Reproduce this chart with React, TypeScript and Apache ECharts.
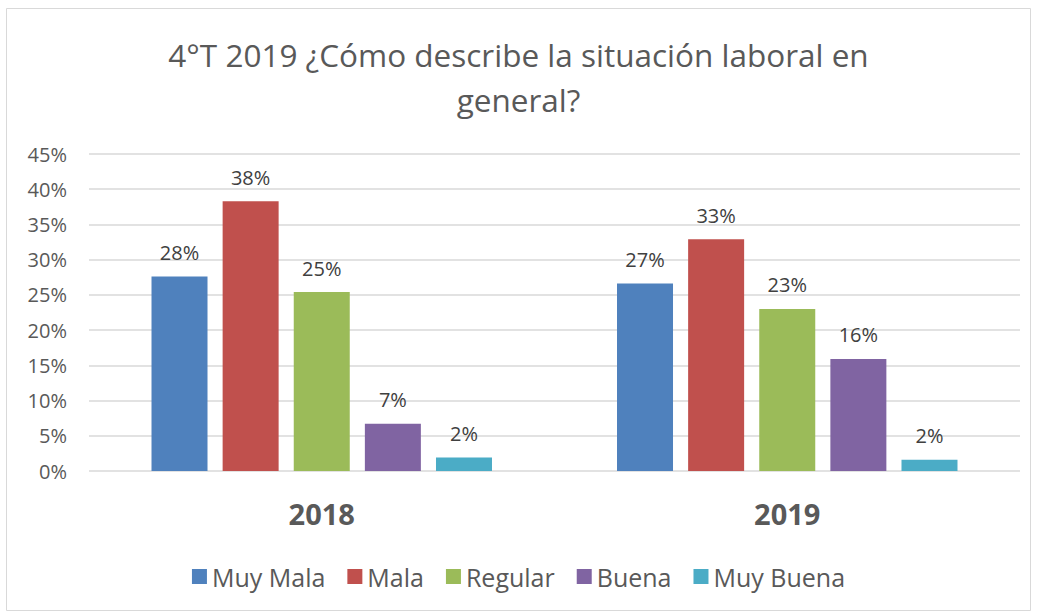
import React, { useEffect, useRef } from "react";
import * as echarts from "echarts";

const categories = ["2018", "2019"];
const seriesNames = ["Muy Mala", "Mala", "Regular", "Buena", "Muy Buena"];
const muyMala = [27.6, 26.6];
const mala = [38.3, 32.9];
const regular = [25.4, 23.0];
const buena = [6.7, 15.9];
const muyBuena = [1.9, 1.6];
const colors = ["#4F81BD", "#C0504D", "#9BBB59", "#8064A2", "#4BACC6"];
const seriesData = [muyMala, mala, regular, buena, muyBuena];

const FONT = "'Open Sans', 'Liberation Sans', sans-serif";

export default function App() {
  const ref = useRef<HTMLDivElement>(null);
  useEffect(() => {
    if (!ref.current) return;
    const chart = echarts.init(ref.current, undefined, { renderer: "svg" });
    chart.setOption({
      animation: false,
      backgroundColor: "#ffffff",
      title: {
        text: "4°T 2019 ¿Cómo describe la situación laboral en\ngeneral?",
        left: "center",
        top: 27,
        textStyle: {
          fontFamily: FONT,
          fontWeight: "normal",
          fontSize: 31.5,
          color: "#595959",
          lineHeight: 45,
        },
      },
      graphic: [
        {
          type: "rect",
          shape: { x: 6.5, y: 8.5, width: 1024, height: 602 },
          style: { fill: "none", stroke: "#d9d9d9", lineWidth: 1 },
          silent: true,
        },
      ],
      legend: {
        bottom: 20,
        left: "center",
        itemWidth: 15,
        itemHeight: 15,
        itemGap: 22,
        icon: "rect",
        textStyle: { fontFamily: FONT, fontSize: 25, color: "#595959" },
        data: seriesNames,
      },
      grid: { left: 89, right: 17, top: 154, bottom: 143 },
      xAxis: {
        type: "category",
        data: categories,
        axisLine: { show: false },
        axisTick: { show: false },
        axisLabel: {
          fontFamily: FONT,
          fontSize: 29,
          fontWeight: "bold",
          color: "#595959",
          margin: 28,
        },
      },
      yAxis: {
        type: "value",
        min: 0,
        max: 45,
        interval: 5,
        axisLine: { show: false },
        axisTick: { show: false },
        axisLabel: {
          fontFamily: FONT,
          fontSize: 20,
          color: "#595959",
          margin: 22,
          formatter: "{value}%",
        },
        splitLine: { lineStyle: { color: "#d9d9d9", width: 1.5 } },
      },
      series: seriesNames.map((name, i) => ({
        name,
        type: "bar",
        data: seriesData[i],
        barWidth: 56,
        barGap: "27%",
        itemStyle: { color: colors[i] },
        label: {
          show: true,
          position: "top",
          distance: 14,
          fontFamily: FONT,
          fontSize: 20,
          color: "#404040",
          formatter: (p: any) => Math.round(p.value) + "%",
        },
      })),
    });
    return () => chart.dispose();
  }, []);
  return (
    <div
      ref={ref}
      style={{ position: "absolute", left: 0, top: 0, width: 1037, height: 614 }}
    />
  );
}
